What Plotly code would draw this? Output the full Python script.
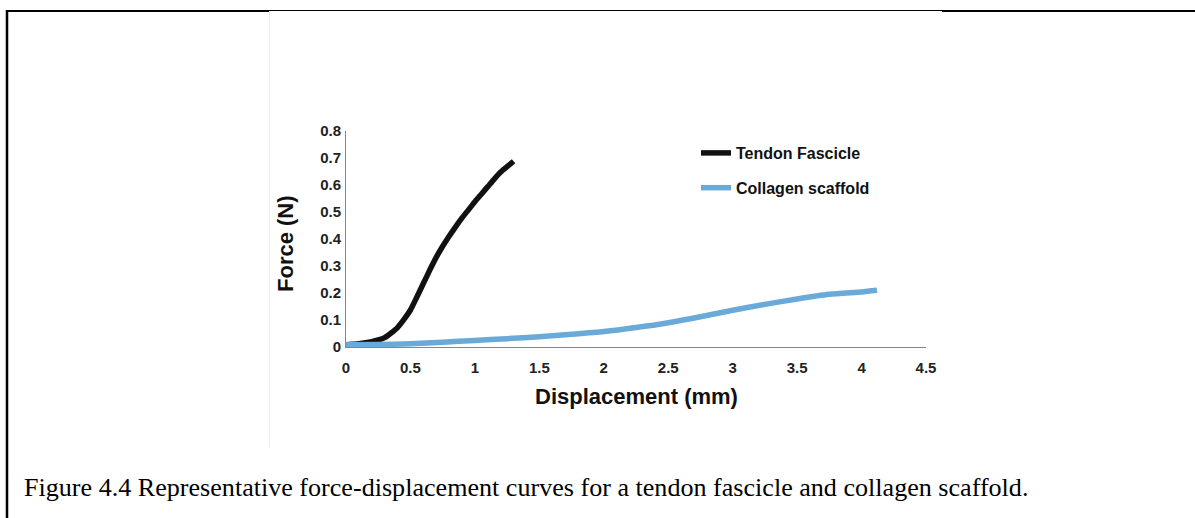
import plotly.graph_objects as go

W, H = 1195, 518

# Tendon fascicle: displacement (mm) and force (N)
tendon_disp = [0.0, 0.05, 0.1, 0.15, 0.2, 0.25, 0.3, 0.35, 0.4, 0.45, 0.5, 0.55, 0.6,
               0.65, 0.7, 0.75, 0.8, 0.85, 0.9, 0.95, 1.0, 1.05, 1.1, 1.15, 1.2, 1.25, 1.3]
tendon_force = [0.008, 0.010, 0.012, 0.016, 0.020, 0.026, 0.035, 0.052, 0.072, 0.102,
                0.137, 0.185, 0.235, 0.285, 0.332, 0.373, 0.410, 0.445, 0.478, 0.508,
                0.538, 0.566, 0.594, 0.622, 0.648, 0.668, 0.688]

# Collagen scaffold: displacement (mm) and force (N)
scaffold_disp = [0.0, 0.25, 0.5, 0.75, 1.0, 1.25, 1.5, 1.75, 2.0, 2.25, 2.5, 2.75,
                 3.0, 3.25, 3.5, 3.75, 4.0, 4.12]
scaffold_force = [0.008, 0.009, 0.012, 0.018, 0.024, 0.031, 0.038, 0.047, 0.057, 0.072,
                  0.090, 0.112, 0.136, 0.158, 0.178, 0.195, 0.204, 0.210]

x_ticks = [0, 0.5, 1, 1.5, 2, 2.5, 3, 3.5, 4, 4.5]
x_tick_labels = ["0", "0.5", "1", "1.5", "2", "2.5", "3", "3.5", "4", "4.5"]
y_ticks = [0, 0.1, 0.2, 0.3, 0.4, 0.5, 0.6, 0.7, 0.8]
y_tick_labels = ["0", "0.1", "0.2", "0.3", "0.4", "0.5", "0.6", "0.7", "0.8"]

caption = ("Figure 4.4 Representative force-displacement curves for a tendon "
           "fascicle and collagen scaffold.")


def px(x):
    """pixel column -> paper x"""
    return x / W


def py(y):
    """pixel row (from top) -> paper y"""
    return 1 - y / H


fig = go.Figure()
fig.add_trace(go.Scatter(x=tendon_disp, y=tendon_force, mode="lines",
                         name="Tendon Fascicle", legendgroup="a",
                         line=dict(color="#111111", width=5.5, shape="spline",
                                   smoothing=0.6)))
fig.add_trace(go.Scatter(x=scaffold_disp, y=scaffold_force, mode="lines",
                         name="Collagen scaffold", legendgroup="b",
                         line=dict(color="#6aaad9", width=5.5, shape="spline",
                                   smoothing=0.6)))

sans = "Liberation Sans, Arial, sans-serif"

fig.update_layout(
    width=W, height=H,
    margin=dict(l=0, r=0, t=0, b=0, autoexpand=False),
    paper_bgcolor="white", plot_bgcolor="white",
    showlegend=True,
    legend=dict(x=px(696), y=py(136), xanchor="left", yanchor="top",
                bgcolor="rgba(0,0,0,0)", tracegroupgap=11,
                font=dict(family=sans, size=16, color="#111111", weight="bold"),
                itemwidth=30),
    xaxis=dict(domain=[px(346), px(926)], range=[0, 4.5], tickvals=x_ticks,
               ticktext=x_tick_labels, showgrid=False, zeroline=False,
               showline=True, linecolor="#868686", linewidth=1, ticks="",
               ticklabelstandoff=7,
               tickfont=dict(family=sans, size=15, color="#222222", weight="bold")),
    yaxis=dict(domain=[py(347), py(131)], range=[0, 0.8], tickvals=y_ticks,
               ticktext=y_tick_labels, showgrid=False, zeroline=False,
               showline=True, linecolor="#868686", linewidth=1, ticks="",
               ticklabelstandoff=1,
               tickfont=dict(family=sans, size=15, color="#222222", weight="bold")),
)

# axis titles
fig.add_annotation(x=px(636), y=py(396), xref="paper", yref="paper",
                   xanchor="center", yanchor="middle",
                   text="<b>Displacement (mm)</b>", showarrow=False,
                   font=dict(family=sans, size=22, color="#111111"))
fig.add_annotation(x=px(286), y=py(244), xref="paper", yref="paper",
                   xanchor="center", yanchor="middle",
                   text="<b>Force (N)</b>", showarrow=False, textangle=-90,
                   font=dict(family=sans, size=22, color="#111111"))

# caption below the chart
fig.add_annotation(x=px(22), y=py(487), xref="paper", yref="paper",
                   xanchor="left", yanchor="middle", text=caption, showarrow=False,
                   font=dict(family="Liberation Serif, Times New Roman, serif",
                             size=26.1, color="#000000"))

# frame around the figure block
line_shapes = [
    dict(x0=7, y0=10, x1=7, y1=518, w=2.5, c="#000000"),
    dict(x0=6, y0=11, x1=270, y1=11, w=2, c="#000000"),
    dict(x0=270, y0=10.5, x1=942, y1=10.5, w=1, c="#000000"),
    dict(x0=942, y0=11, x1=1195, y1=11, w=2, c="#000000"),
    dict(x0=269.5, y0=11, x1=269.5, y1=447, w=1, c="#ececec"),
]
for s in line_shapes:
    fig.add_shape(type="line", xref="paper", yref="paper",
                  x0=px(s["x0"]), y0=py(s["y0"]), x1=px(s["x1"]), y1=py(s["y1"]),
                  line=dict(color=s["c"], width=s["w"]))

fig.write_html("out.html")
